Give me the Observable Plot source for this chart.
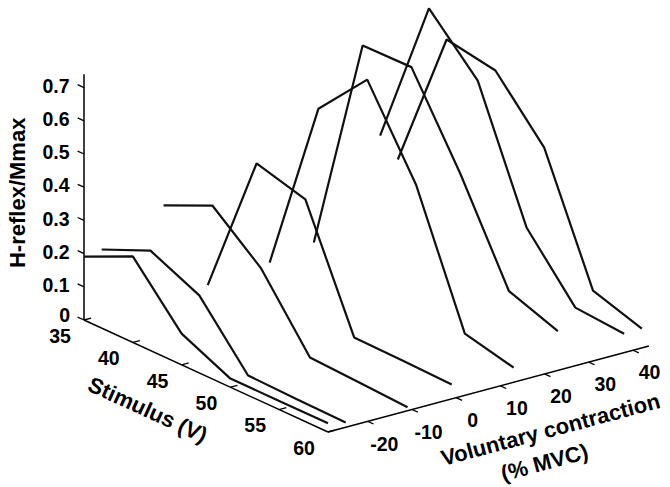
<!DOCTYPE html>
<html>
<head>
<meta charset="utf-8">
<script src="https://cdn.jsdelivr.net/npm/d3@7"></script>
<script src="https://cdn.jsdelivr.net/npm/@observablehq/plot@0.6"></script>
<style>
  html, body { margin: 0; padding: 0; background: #fff; }
  #chart { width: 670px; height: 487px; }
</style>
</head>
<body>
<div id="chart"></div>
<script>
// ---- Data ----
const stimulus = [35, 40, 45, 50, 55, 60];                 // Stimulus (V)
const contractionLevels = [-29, -25, -11, -1, 13, 23, 38, 42]; // Voluntary contraction (% MVC)
const hReflex_m29 = [0.191, 0.259, 0.094, 0.026, 0.026, 0.026];
const hReflex_m25 = [0.198, 0.262, 0.195, 0.021, 0.017, 0.014];
const hReflex_m11 = [0.281, 0.348, 0.226, 0.025, 0.018, 0.010];
const hReflex_m1  = [0.005, 0.439, 0.398, 0.050, 0.047, 0.043];
const hReflex_13  = [0.023, 0.554, 0.709, 0.460, 0.079, 0.044];
const hReflex_23  = [0.048, 0.709, 0.711, 0.458, 0.171, 0.118];
const hReflex_38  = [0.316, 0.767, 0.617, 0.242, 0.068, 0.057];
const hReflex_42  = [0.230, 0.659, 0.633, 0.468, 0.105, 0.058];
const hReflexSeries = [hReflex_m29, hReflex_m25, hReflex_m11, hReflex_m1, hReflex_13, hReflex_23, hReflex_38, hReflex_42];

const hTicks = [0, 0.1, 0.2, 0.3, 0.4, 0.5, 0.6, 0.7];
const hTickLabels = ["0", "0.1", "0.2", "0.3", "0.4", "0.5", "0.6", "0.7"];
const stimTicks = [35, 40, 45, 50, 55, 60];
const mvcTicks = [-20, -10, 0, 10, 20, 30, 40];
const stimDomain = [35, 60];
const mvcDomain = [-29, 43.6];
const hDomain = [0, 0.74];

// ---- Oblique 3-D projection onto the two Plot position scales ----
const W = 670, H = 487;
const ORIGIN_X = 83.5, ORIGIN_Y = 319.5;  // where (35 V, -29 %, 0) lands
const PX_PER_V = 9.76;                     // x scale unit = 1 V along the stimulus axis
const PX_PER_H = 332;                      // y scale unit = 1 H-reflex/Mmax
const cX = 4.42 / PX_PER_V;                // contraction -> x (in V units)
const sY = 4.48 / PX_PER_H;                // stimulus -> y (in H units, downwards)
const cY = 1.185 / PX_PER_H;               // contraction -> y (in H units, upwards)
const s0 = stimDomain[0], c0 = mvcDomain[0];
const px = (s, c) => (s - s0) + (c - c0) * cX;
const py = (s, c, h) => h - (s - s0) * sY + (c - c0) * cY;

// traces
const traces = [];
contractionLevels.forEach((c, i) => {
  stimulus.forEach((s, j) => traces.push({s, c, h: hReflexSeries[i][j]}));
});

const FONT = "Liberation Sans, Arial, Helvetica, sans-serif";
const tickFont = {fontFamily: FONT, fontSize: 19.5, fontWeight: "bold", fill: "#000"};
const titleFont = {fontFamily: FONT, fontSize: 22, fontWeight: "bold", fill: "#000"};

const axisLines = [
  [{s: s0, c: c0, h: hDomain[0]}, {s: s0, c: c0, h: hDomain[1]}],
  [{s: stimDomain[0], c: c0, h: 0}, {s: stimDomain[1], c: c0, h: 0}],
  [{s: stimDomain[1], c: mvcDomain[0], h: 0}, {s: stimDomain[1], c: mvcDomain[1], h: 0}]
].flatMap((seg, k) => seg.map(p => ({...p, k})));

const hLabelIdx = hTicks.map((h, i) => i);
const chart = Plot.plot({
  width: W,
  height: H,
  margin: 0,
  x: {domain: [-ORIGIN_X / PX_PER_V, (W - ORIGIN_X) / PX_PER_V], range: [0, W], axis: null},
  y: {domain: [(ORIGIN_Y - H) / PX_PER_H, ORIGIN_Y / PX_PER_H], range: [H, 0], axis: null},
  style: {background: "#fff", overflow: "visible"},
  marks: [
    // axes
    Plot.line(axisLines, {x: d => px(d.s, d.c), y: d => py(d.s, d.c, d.h), z: "k",
      stroke: "#000", strokeWidth: 1.5, strokeLinecap: "butt"}),
    // vertical axis ticks (point toward lower stimulus)
    Plot.link(hTicks, {x1: () => px(s0, c0), y1: h => py(s0, c0, h),
      x2: () => px(s0 - 0.65, c0), y2: h => py(s0 - 0.65, c0, h),
      stroke: "#000", strokeWidth: 1.3}),
    // stimulus ticks (point toward higher contraction)
    Plot.link(stimTicks, {x1: s => px(s, c0), y1: s => py(s, c0, 0),
      x2: s => px(s, c0 + 1.6), y2: s => py(s, c0 + 1.6, 0),
      stroke: "#000", strokeWidth: 1.3}),
    // contraction ticks (point toward higher stimulus)
    Plot.link(mvcTicks, {x1: c => px(stimDomain[1], c), y1: c => py(stimDomain[1], c, 0),
      x2: c => px(stimDomain[1] + 0.6, c), y2: c => py(stimDomain[1] + 0.6, c, 0),
      stroke: "#000", strokeWidth: 1.3}),
    // tick labels (vertical axis; the zero label sits a little higher, clear of "35")
    Plot.text(hLabelIdx.filter(i => hTicks[i] !== 0), {x: () => px(s0, c0), y: i => py(s0, c0, hTicks[i]),
      text: i => hTickLabels[i], textAnchor: "end", dx: -14.5, dy: -1, ...tickFont}),
    Plot.text(hLabelIdx.filter(i => hTicks[i] === 0), {x: () => px(s0, c0), y: i => py(s0, c0, hTicks[i]),
      text: i => hTickLabels[i], textAnchor: "end", dx: -14, dy: -4.5, ...tickFont}),
    Plot.text(stimTicks, {x: s => px(s, c0), y: s => py(s, c0, 0), text: s => String(s),
      textAnchor: "middle", dx: -24, dy: 16.5, ...tickFont}),
    Plot.text(mvcTicks, {x: c => px(stimDomain[1], c), y: c => py(stimDomain[1], c, 0), text: c => String(c),
      textAnchor: "middle", dx: 16.5, dy: 23, ...tickFont}),
    // axis titles
    Plot.text([{s: s0, c: c0, h: 0.38, t: "H-reflex/Mmax"}], {x: d => px(d.s, d.c), y: d => py(d.s, d.c, d.h), text: "t",
      rotate: -90, textAnchor: "middle", dx: -66.5, dy: -1, ...titleFont}),
    Plot.text([{s: 45, c: c0, h: 0, t: "Stimulus (V)"}], {x: d => px(d.s, d.c), y: d => py(d.s, d.c, d.h), text: "t",
      rotate: 24.6, textAnchor: "middle", dx: -34, dy: 45.5, ...titleFont}),
    Plot.text([{s: stimDomain[1], c: 20, h: 0, t: "Voluntary contraction"}], {x: d => px(d.s, d.c), y: d => py(d.s, d.c, d.h), text: "t",
      rotate: -15, textAnchor: "middle", dx: 6, dy: 56, ...titleFont}),
    Plot.text([{s: stimDomain[1], c: 20, h: 0, t: "(% MVC)"}], {x: d => px(d.s, d.c), y: d => py(d.s, d.c, d.h), text: "t",
      rotate: -15, textAnchor: "middle", dx: 0, dy: 89, ...titleFont}),
    // H-reflex traces
    Plot.line(traces, {x: d => px(d.s, d.c), y: d => py(d.s, d.c, d.h), z: "c",
      stroke: "#111", strokeWidth: 2.2, strokeLinejoin: "miter", strokeLinecap: "butt"})
  ]
});
document.getElementById("chart").appendChild(chart);
</script>
</body>
</html>
